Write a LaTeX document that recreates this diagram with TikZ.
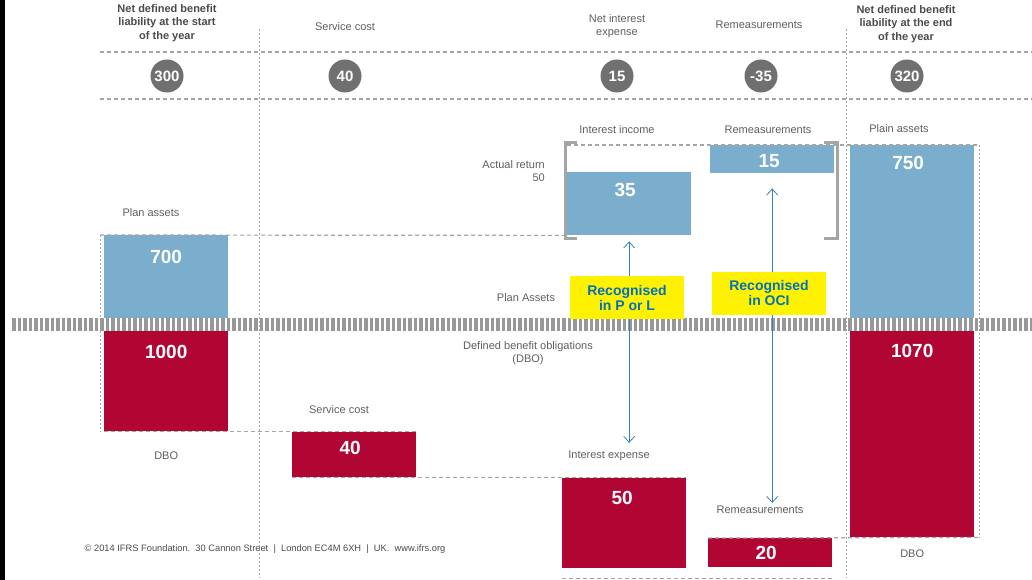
\documentclass[tikz,border=0pt]{standalone}
\usepackage{fontspec}
\setmainfont{Liberation Sans}
\usepackage{xcolor}
\usepackage{tikz}
\usetikzlibrary{arrows.meta,positioning}
\definecolor{assetblue}{RGB}{123,173,204}
\definecolor{dbored}{RGB}{177,6,52}
\definecolor{bubblegray}{RGB}{112,112,112}
\definecolor{guidegray}{RGB}{165,165,165}
\definecolor{bandgray}{RGB}{152,152,152}
\definecolor{labelgray}{RGB}{95,95,95}
\definecolor{headgray}{RGB}{75,75,75}
\definecolor{tagblue}{RGB}{0,112,192}
\definecolor{linkblue}{RGB}{55,128,182}
\tikzset{
  assetbar/.style={rectangle, fill=assetblue, anchor=north west, minimum width=124pt, inner sep=0pt},
  dbobar/.style={rectangle, fill=dbored, anchor=north west, minimum width=124pt, inner sep=0pt},
  num/.style={text=white, inner sep=0pt, font=\fontsize{19}{19}\selectfont\bfseries},
  bubble/.style={circle, fill=bubblegray, minimum size=33pt, inner sep=0pt, text=white, font=\fontsize{15}{15}\selectfont\bfseries},
  lbl/.style={align=center, inner sep=0pt, text=labelgray, font=\fontsize{11}{13.5}\selectfont},
  head/.style={align=center, inner sep=0pt, text=headgray, font=\fontsize{11}{13.5}\selectfont\bfseries},
  foot/.style={inner sep=0pt, text=headgray, font=\fontsize{9.3}{11}\selectfont},
  tag/.style={rectangle, fill=yellow, align=center, minimum width=114pt, minimum height=43pt, text=tagblue, font=\fontsize{14}{15}\selectfont\bfseries},
  guide/.style={draw=guidegray, line width=1.2pt, dash pattern=on 4pt off 3pt},
  vguide/.style={draw=guidegray, line width=1pt, dash pattern=on 2pt off 2pt},
  brace/.style={draw=guidegray, line width=3pt},
  band/.style={draw=bandgray, line width=13pt, dash pattern=on 3.5pt off 2pt},
  link/.style={draw=linkblue, line width=0.8pt, {Straight Barb[length=6pt,width=11pt]}-{Straight Barb[length=6pt,width=11pt]}}
}

\begin{document}
\begin{tikzpicture}[x=1pt, y=-1pt]
  \fill[white] (0,0) rectangle (1032,580);
  \useasboundingbox (0,0) rectangle (1032,580);
  \fill[black] (0,0) rectangle (5,580);

  \node[head] (hstart) at (167,23) {Net defined benefit\\liability at the start\\of the year};
  \node[lbl] (hservice) at (345,27) {Service cost};
  \node[lbl] (hinterest) at (617,26) {Net interest\\expense};
  \node[lbl] (hremeas) at (759,25) {Remeasurements};
  \node[head] (hend) at (906,24) {Net defined benefit\\liability at the end\\of the year};
  \draw[guide] (100,52) -- (1032,52);
  \draw[guide] (100,99) -- (1032,99);
  \node[bubble] (b300) at (167,76) {300};
  \node[bubble] (b40) at (345,76) {40};
  \node[bubble] (b15) at (617,76) {15};
  \node[bubble] (bm35) at (761,76) {-35};
  \node[bubble] (b320) at (907,76) {320};
  \draw[vguide] (259,29) -- (259,578);
  \draw[vguide] (846,29) -- (846,578);

  \node[assetbar, minimum height=83pt] (pa700) at (104,235) {};
  \node[dbobar, minimum height=100pt] (dbo1000) at (104,331) {};
  \node[dbobar, minimum height=45pt] (sc40) at (292,432) {};
  \node[assetbar, minimum height=63pt] (inc35) at (567,172) {};
  \node[assetbar, minimum height=28pt] (rem15) at (710,145) {};
  \node[dbobar, minimum height=90pt] (ie50) at (562,478) {};
  \node[dbobar, minimum height=29pt] (rm20) at (708,538) {};
  \node[assetbar, minimum height=173pt] (pa750) at (850,145) {};
  \node[dbobar, minimum height=206pt] (dbo1070) at (850,331) {};

  \draw[guide] ([xshift=-4pt]pa700.north west) -- (inc35.south west);
  \draw[guide] (rem15.north west -| inc35.west) -- ([xshift=5pt]pa750.north east);
  \draw[guide] (dbo1000.south west) -- (dbo1000.south west -| sc40.east);
  \draw[guide] (sc40.south west) -- (sc40.south west -| ie50.east);
  \draw[guide] (rm20.north west) -- ([xshift=5pt]dbo1070.south east);
  \draw[guide] ([yshift=-10pt]ie50.south west) -- ([yshift=-10pt]ie50.south west -| rm20.east);
  \draw[vguide] ([xshift=-4pt]pa700.north west) -- ([xshift=-4pt]dbo1000.south west);
  \draw[vguide] ([xshift=5pt]pa750.north east) -- ([xshift=5pt]dbo1070.south east);
  \draw[brace] (577,143) -- (565,143) -- (565,238) -- (577,238);
  \draw[brace] (824,143) -- (837,143) -- (837,238) -- (824,238);
  \draw[band] (12,324.5) -- (1032,324.5);

  \node[num] (v700) at ([yshift=-22pt]pa700.north) {700};
  \node[num] (v1000) at ([yshift=-21pt]dbo1000.north) {1000};
  \node[num] (v40) at ([xshift=-4pt, yshift=-16pt]sc40.north) {40};
  \node[num] (v35) at ([xshift=-4pt, yshift=-18pt]inc35.north) {35};
  \node[num] (v15) at ([xshift=-3pt, yshift=-16pt]rem15.north) {15};
  \node[num] (v50) at ([xshift=-2pt, yshift=-20pt]ie50.north) {50};
  \node[num] (v20) at ([xshift=-4pt, yshift=-15pt]rm20.north) {20};
  \node[num] (v750) at ([xshift=-4pt, yshift=-18pt]pa750.north) {750};
  \node[num] (v1070) at ([yshift=-20pt]dbo1070.north) {1070};

  \node[lbl] (lpa) at (151,213) {Plan assets};
  \node[lbl, below=20pt of dbo1000] (ldbo) {DBO};
  \node[lbl] (lsc) at (339,410) {Service cost};
  \node[lbl, align=right, anchor=east] (lactual) at (545,171) {Actual return\\50};
  \node[lbl] (linc) at (617,130) {Interest income};
  \node[lbl] (lrem) at (768,130) {Remeasurements};
  \node[lbl] (lplain) at (899,129) {Plain assets};
  \node[lbl] (lassets) at (526,298) {Plan Assets};
  \node[lbl] (lobl) at (528,353) {Defined benefit obligations\\(DBO)};
  \node[lbl] (lie) at (609,456) {Interest expense};
  \node[lbl] (lrm) at (760,510) {Remeasurements};
  \node[lbl, below=12pt of dbo1070] (ldbo2) {DBO};

  \draw[link] ([yshift=-6pt]inc35.south) -- ([yshift=8pt]inc35.south |- lie.north);
  \draw[link] ([yshift=-15pt]rem15.south) -- ([yshift=3pt]rem15.south |- lrm.north);
  \node[tag] (tagpl) at (627,297.5) {Recognised\\in P or L};
  \node[tag] (tagoci) at (769,293) {Recognised\\in OCI};

  \node[foot] (footer) at (265,549) {© 2014 IFRS Foundation.\ \ 30 Cannon Street\ \ |\ \ London EC4M 6XH\ \ |\ \ UK.\ \ www.ifrs.org};
\end{tikzpicture}
\end{document}
